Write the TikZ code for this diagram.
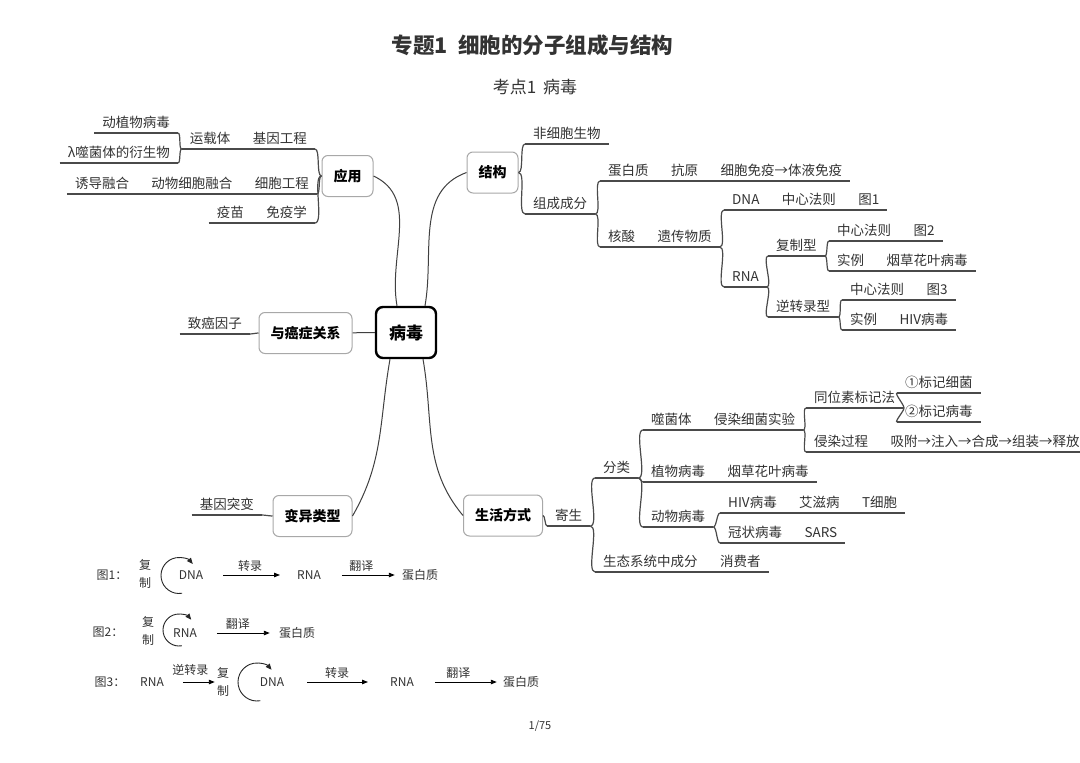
\documentclass[tikz,border=0pt]{standalone}
\usepackage{fontspec}
\setmainfont{Noto Sans CJK SC}
\usepackage{tikz}
\usetikzlibrary{arrows.meta}
\usetikzlibrary{positioning}
\definecolor{ink}{HTML}{333333}
\definecolor{wire}{HTML}{4A4A4A}
\definecolor{rim}{HTML}{A8A8A8}

\begin{document}
\begin{tikzpicture}[x=1pt, y=1pt,
    uline/.style={draw=wire, line width=1.2pt},
    topic/.style={font=\fontsize{13.5}{14}\selectfont, text=ink, inner xsep=8pt, inner ysep=3pt,
        text height=10pt, text depth=2pt,
        append after command={(\tikzlastnode.south west) edge[uline] (\tikzlastnode.south east)}},
    rtopic/.style={topic, anchor=south west},
    ltopic/.style={topic, anchor=south east},
    box/.style={draw=rim, line width=1pt, rounded corners=6pt, fill=white, text=black,
        font=\bfseries\fontsize{14}{14}\selectfont, inner xsep=11.5pt, minimum height=41pt},
    core/.style={draw=black, line width=2.4pt, rounded corners=7pt, fill=white,
        font=\bfseries\fontsize{17}{17}\selectfont, inner xsep=13pt, minimum height=51pt},
    trunk/.style={draw=black!75, line width=1pt},
    br/.style={out=0, in=180, looseness=0.5},
    bl/.style={out=180, in=0, looseness=0.5},
    fig/.style={font=\fontsize{12}{18}\selectfont, text=ink, align=center, inner sep=1pt},
    farr/.style={draw=black, line width=0.9pt, -{Triangle[length=6pt,width=4.5pt]}},
    loop/.style={draw=black!85, line width=0.9pt, -{Triangle[length=6pt,width=5pt]}}]

    \fill [white] (0,0) rectangle (1080,-763);          % page
    \useasboundingbox (0,0) rectangle (1080,-763);

    \node [font=\bfseries\fontsize{21.5}{22}\selectfont, text=ink] (title) at (532.5,-45)
        {专题1\hspace{0.5em}细胞的分子组成与结构};
    \node [font=\fontsize{17}{17}\selectfont, text=ink] (sub) at (535,-87) {考点1\hspace{0.4em}病毒};

    % main boxes
    \node [core] (bingdu) at (406,-332.5) {病毒};
    \node [box] (yingyong) at (347.5,-176) {应用};
    \node [box] (jiegou) at (492.5,-172.5) {结构};
    \node [box] (aizheng) at (305.5,-333) {与癌症关系};
    \node [box] (bianyi) at (312.5,-516) {变异类型};
    \node [box] (shenghuo) at (503,-515.5) {生活方式};

    \draw [trunk] (yingyong.east) to[out=-25, in=100] ([xshift=-9pt]bingdu.north);
    \draw [trunk] (jiegou.west) to[out=-160, in=80] ([xshift=19pt]bingdu.north);
    \draw [trunk] ([xshift=-16pt]bingdu.south) to[out=-100, in=60] (bianyi.east);
    \draw [trunk] ([xshift=17pt]bingdu.south) to[out=-80, in=130] (shenghuo.west);
    \draw [trunk] (aizheng) -- (bingdu);

    % structure
    \node [rtopic] (fxbsw) at (525,-144) {非细胞生物};
    \node [rtopic] (zccf) at (525,-214) {组成成分};
    \node [rtopic] (dbz) at (600,-181) {蛋白质};
    \node [rtopic, right=6pt of dbz] (ky) {抗原};
    \node [rtopic, right=6pt of ky] (xbmy) {细胞免疫→体液免疫};
    \node [rtopic] (hs) at (600,-247) {核酸};
    \node [rtopic, right=6pt of hs] (ycwz) {遗传物质};
    \node [rtopic] (dna) at (724,-210) {DNA};
    \node [rtopic, right=6pt of dna] (zxfz1) {中心法则};
    \node [rtopic, right=6pt of zxfz1] (tu1) {图1};
    \node [rtopic] (rna) at (724,-287) {RNA};
    \node [rtopic] (fzx) at (768,-256) {复制型};
    \node [rtopic] (zxfz2) at (829,-241) {中心法则};
    \node [rtopic, right=6pt of zxfz2] (tu2) {图2};
    \node [rtopic] (sl2) at (829,-271) {实例};
    \node [rtopic, right=6pt of sl2] (ychy2) {烟草花叶病毒};
    \node [rtopic] (nzlx) at (768,-317) {逆转录型};
    \node [rtopic] (zxfz3) at (842,-300) {中心法则};
    \node [rtopic, right=6pt of zxfz3] (tu3) {图3};
    \node [rtopic] (sl3) at (842,-330) {实例};
    \node [rtopic, right=6pt of sl3] (hiv3) {HIV病毒};

    \draw [uline] (jiegou.east) to[br] (fxbsw.south west);
    \draw [uline] (jiegou.east) to[br] (zccf.south west);
    \draw [uline] (zccf.south east) to[br] (dbz.south west);
    \draw [uline] (zccf.south east) to[br] (hs.south west);
    \draw [uline] (ycwz.south east) to[br] (dna.south west);
    \draw [uline] (ycwz.south east) to[br] (rna.south west);
    \draw [uline] (rna.south east) to[br] (fzx.south west);
    \draw [uline] (rna.south east) to[br] (nzlx.south west);
    \draw [uline] (fzx.south east) to[br] (zxfz2.south west);
    \draw [uline] (fzx.south east) to[br] (sl2.south west);
    \draw [uline] (nzlx.south east) to[br] (zxfz3.south west);
    \draw [uline] (nzlx.south east) to[br] (sl3.south west);
    \draw [uline] (dbz.south east) -- (ky.south west);
    \draw [uline] (ky.south east) -- (xbmy.south west);
    \draw [uline] (hs.south east) -- (ycwz.south west);
    \draw [uline] (dna.south east) -- (zxfz1.south west);
    \draw [uline] (zxfz1.south east) -- (tu1.south west);
    \draw [uline] (zxfz2.south east) -- (tu2.south west);
    \draw [uline] (sl2.south east) -- (ychy2.south west);
    \draw [uline] (zxfz3.south east) -- (tu3.south west);
    \draw [uline] (sl3.south east) -- (hiv3.south west);

    % way of life
    \node [rtopic] (jish) at (547,-526) {寄生};
    \node [rtopic] (fl) at (595,-478) {分类};
    \node [rtopic] (sttx) at (595,-572) {生态系统中成分};
    \node [rtopic, right=6pt of sttx] (xfz) {消费者};
    \node [rtopic] (sjt) at (643,-430) {噬菌体};
    \node [rtopic, right=6pt of sjt] (qrsy) {侵染细菌实验};
    \node [rtopic] (twsb) at (806,-408) {同位素标记法};
    \node [rtopic] (bjxj) at (897,-393) {①标记细菌};
    \node [rtopic] (bjbd) at (897,-422) {②标记病毒};
    \node [rtopic] (qrgc) at (806,-452) {侵染过程};
    \node [rtopic, right=6pt of qrgc] (gc) {吸附→注入→合成→组装→释放};
    \node [rtopic] (zwbd) at (643,-482) {植物病毒};
    \node [rtopic, right=6pt of zwbd] (ychy1) {烟草花叶病毒};
    \node [rtopic] (dwbd) at (643,-527) {动物病毒};
    \node [rtopic] (hiv1) at (720,-513) {HIV病毒};
    \node [rtopic, right=6pt of hiv1] (azb) {艾滋病};
    \node [rtopic, right=6pt of azb] (txb) {T细胞};
    \node [rtopic] (gzbd) at (720,-543) {冠状病毒};
    \node [rtopic, right=6pt of gzbd] (sars) {SARS};

    \draw [uline] (shenghuo.east) to[br] (jish.south west);
    \draw [uline] (jish.south east) to[br] (fl.south west);
    \draw [uline] (jish.south east) to[br] (sttx.south west);
    \draw [uline] (fl.south east) to[br] (sjt.south west);
    \draw [uline] (fl.south east) to[br] (zwbd.south west);
    \draw [uline] (fl.south east) to[br] (dwbd.south west);
    \draw [uline] (qrsy.south east) to[br] (twsb.south west);
    \draw [uline] (qrsy.south east) to[br] (qrgc.south west);
    \draw [uline] (twsb.south east) to[br] (bjxj.south west);
    \draw [uline] (twsb.south east) to[br] (bjbd.south west);
    \draw [uline] (dwbd.south east) to[br] (hiv1.south west);
    \draw [uline] (dwbd.south east) to[br] (gzbd.south west);
    \draw [uline] (sttx.south east) -- (xfz.south west);
    \draw [uline] (sjt.south east) -- (qrsy.south west);
    \draw [uline] (qrgc.south east) -- (gc.south west);
    \draw [uline] (zwbd.south east) -- (ychy1.south west);
    \draw [uline] (hiv1.south east) -- (azb.south west);
    \draw [uline] (azb.south east) -- (txb.south west);
    \draw [uline] (gzbd.south east) -- (sars.south west);

    % application, cancer, variation
    \node [ltopic] (jygc) at (315,-149) {基因工程};
    \node [ltopic, left=6pt of jygc] (yzt) {运载体};
    \node [ltopic] (dzw) at (178,-133) {动植物病毒};
    \node [ltopic] (ljt) at (178,-163) {λ噬菌体的衍生物};
    \node [ltopic] (xbgc) at (317,-194) {细胞工程};
    \node [ltopic, left=6pt of xbgc] (dwrh) {动物细胞融合};
    \node [ltopic, left=6pt of dwrh] (ydrh) {诱导融合};
    \node [ltopic] (myx) at (315,-223) {免疫学};
    \node [ltopic, left=6pt of myx] (ym) {疫苗};
    \node [ltopic] (zayz) at (250,-334) {致癌因子};
    \node [ltopic] (jytb) at (262,-515) {基因突变};

    \draw [uline] (yingyong.west) to[bl] (jygc.south east);
    \draw [uline] (yingyong.west) to[bl] (xbgc.south east);
    \draw [uline] (yingyong.west) to[bl] (myx.south east);
    \draw [uline] (yzt.south west) to[bl] (dzw.south east);
    \draw [uline] (yzt.south west) to[bl] (ljt.south east);
    \draw [uline] (aizheng.west) to[bl] (zayz.south east);
    \draw [uline] (bianyi.west) to[bl] (jytb.south east);
    \draw [uline] (yzt.south east) -- (jygc.south west);
    \draw [uline] (dwrh.south east) -- (xbgc.south west);
    \draw [uline] (ydrh.south east) -- (dwrh.south west);
    \draw [uline] (ym.south east) -- (myx.south west);

    % figure 1
    \node [fig] (f1lab) at (112,-575) {图1：};
    \node [fig] (f1fz) at (145,-574) {复\\制};
    \coordinate (f1c) at (179,-575.5);
    \node [fig] (f1dna) at (191,-575) {DNA};
    \node [fig] (f1rna) at (309,-575) {RNA};
    \node [fig] (f1dbz) at (420,-575) {蛋白质};
    \draw [loop] ([shift={(-80:18)}]f1c) arc[start angle=-80, end angle=-320, radius=18];
    \draw [farr, shorten <=19pt, shorten >=16pt] (f1dna) -- node[fig, above=2pt] {转录} (f1rna);
    \draw [farr, shorten <=20pt, shorten >=6pt] (f1rna) -- node[fig, above=2pt] {翻译} (f1dbz);

    % figure 2
    \node [fig] (f2lab) at (108,-632) {图2：};
    \node [fig] (f2fz) at (148,-631) {复\\制};
    \coordinate (f2c) at (179,-630);
    \node [fig] (f2rna) at (185,-633) {RNA};
    \node [fig] (f2dbz) at (297,-633) {蛋白质};
    \draw [loop] ([shift={(-80:16)}]f2c) arc[start angle=-80, end angle=-320, radius=16];
    \draw [farr, shorten <=19pt, shorten >=8pt] (f2rna) -- node[fig, above=2pt] {翻译} (f2dbz);

    % figure 3
    \node [fig] (f3lab) at (110,-682) {图3：};
    \node [fig] (f3rna1) at (152,-682) {RNA};
    \node [fig] (f3fz) at (223,-682) {复\\制};
    \coordinate (f3c) at (257,-682);
    \node [fig] (f3dna) at (272,-682) {DNA};
    \node [fig] (f3rna2) at (402,-682) {RNA};
    \node [fig] (f3dbz) at (521,-682) {蛋白质};
    \draw [loop] ([shift={(-80:19)}]f3c) arc[start angle=-80, end angle=-320, radius=19];
    \draw [farr, shorten <=18pt, shorten >=1pt] (f3rna1) -- node[fig, above=5pt] {逆转录} (f3fz);
    \draw [farr, shorten <=22pt, shorten >=21pt] (f3dna) -- node[fig, above=2pt] {转录} (f3rna2);
    \draw [farr, shorten <=20pt, shorten >=5pt] (f3rna2) -- node[fig, above=2pt] {翻译} (f3dbz);

    \node [font=\fontsize{11}{11}\selectfont, text=ink] (page) at (540,-726) {1/75};
\end{tikzpicture}
\end{document}
